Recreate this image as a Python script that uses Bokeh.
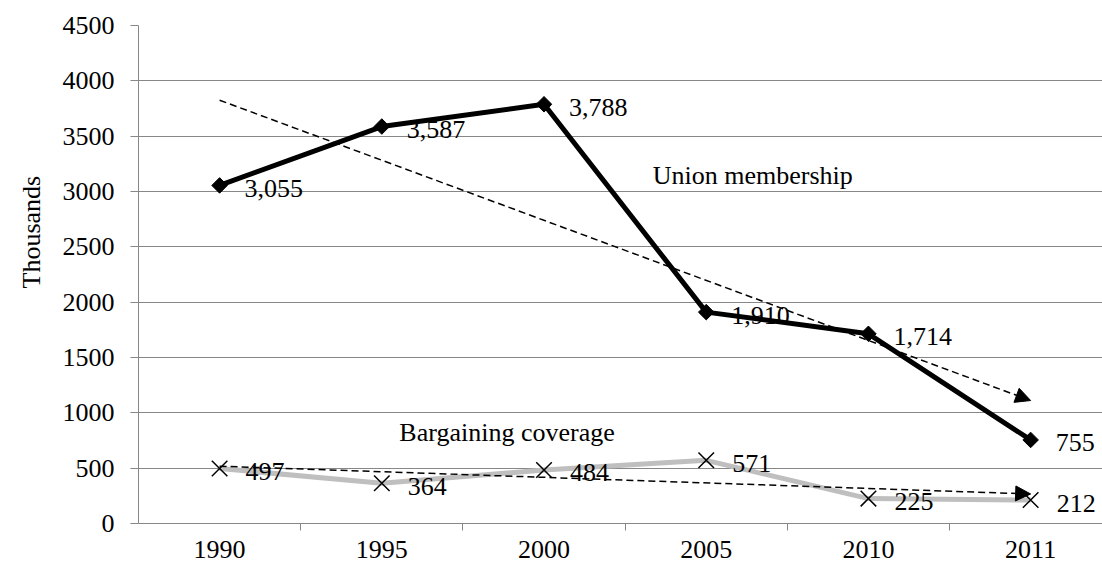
import numpy as np
from bokeh.plotting import figure
from bokeh.models import Range1d, FixedTicker, Label, Arrow, NormalHead, Title
from bokeh.core.properties import value
from bokeh.embed import file_html
from bokeh.resources import INLINE

years = ["1990", "1995", "2000", "2005", "2010", "2011"]
union = [3055, 3587, 3788, 1910, 1714, 755]
bargaining = [497, 364, 484, 571, 225, 212]
y_ticks = [0, 500, 1000, 1500, 2000, 2500, 3000, 3500, 4000, 4500]

FONT = "Liberation Serif"
FS = "26px"
GRID = "#878787"

x = list(range(len(years)))

p = figure(width=1102, height=565, output_backend="svg", toolbar_location=None,
           x_range=Range1d(-0.5, 5.443), y_range=Range1d(0, 4500),
           min_border_left=137, min_border_right=0, min_border_top=25,
           min_border_bottom=42)
p.outline_line_color = None
p.xgrid.visible = False
p.ygrid.ticker = FixedTicker(ticks=y_ticks)
p.ygrid.grid_line_color = GRID

xa = p.xaxis[0]
xa.ticker = FixedTicker(ticks=x, minor_ticks=[i + 0.5 for i in x[:-1]])
xa.major_label_overrides = {i: yr for i, yr in enumerate(years)}
xa.major_tick_line_color = None
xa.major_tick_out = 0
xa.major_tick_in = 0
xa.minor_tick_out = 7
xa.minor_tick_in = 0
xa.minor_tick_line_color = GRID
xa.axis_line_color = GRID
xa.major_label_standoff = 10
xa.major_label_text_font = FONT
xa.major_label_text_font_size = FS
xa.major_label_text_color = "black"

ya = p.yaxis[0]
ya.ticker = FixedTicker(ticks=y_ticks)
ya.major_tick_out = 8
ya.major_tick_in = 0
ya.minor_tick_line_color = None
ya.major_tick_line_color = GRID
ya.axis_line_color = GRID
ya.major_label_standoff = 16
ya.major_label_text_font = FONT
ya.major_label_text_font_size = FS
ya.major_label_text_color = "black"

# y axis title, shifted up like the source
p.add_layout(Title(text="Thousands", align="left", offset=235, standoff=28,
                   text_font=FONT, text_font_size=FS, text_font_style="normal",
                   text_color="black"), "left")

# series
p.line(x, bargaining, line_color="#BFBFBF", line_width=5)
p.scatter(x, bargaining, marker="x", size=22, line_color="black", line_width=1.5)
p.line(x, union, line_color="black", line_width=5)
p.scatter(x, union, marker="square", angle=np.pi / 4, size=11,
          fill_color="black", line_color="black")

# data labels
p.text(x, union, text=[f"{v:,}" for v in union], x_offset=25, y_offset=3,
       text_font=value(FONT), text_font_size=FS, text_baseline="middle",
       text_color="black")
p.text(x, bargaining, text=[f"{v:,}" for v in bargaining], x_offset=26, y_offset=3,
       text_font=value(FONT), text_font_size=FS, text_baseline="middle",
       text_color="black")

# linear trendlines (from the data, as the source chart's trendline)
xi = np.arange(1, len(years) + 1)
for series in (union, bargaining):
    k, b = np.polyfit(xi, series, 1)
    p.add_layout(Arrow(end=NormalHead(size=15, fill_color="black", line_color="black"),
                       x_start=0, y_start=k * 1 + b, x_end=len(years) - 1,
                       y_end=k * len(years) + b,
                       line_dash="7 4", line_width=1.5, line_color="black"))

# annotations
p.add_layout(Label(x=2.67, y=3144, text="Union membership", text_font=FONT,
                   text_font_size=FS, text_baseline="middle", text_color="black"))
p.add_layout(Label(x=1.108, y=822, text="Bargaining coverage", text_font=FONT,
                   text_font_size=FS, text_baseline="middle", text_color="black"))

open("out.html", "w").write(file_html(p, INLINE))
